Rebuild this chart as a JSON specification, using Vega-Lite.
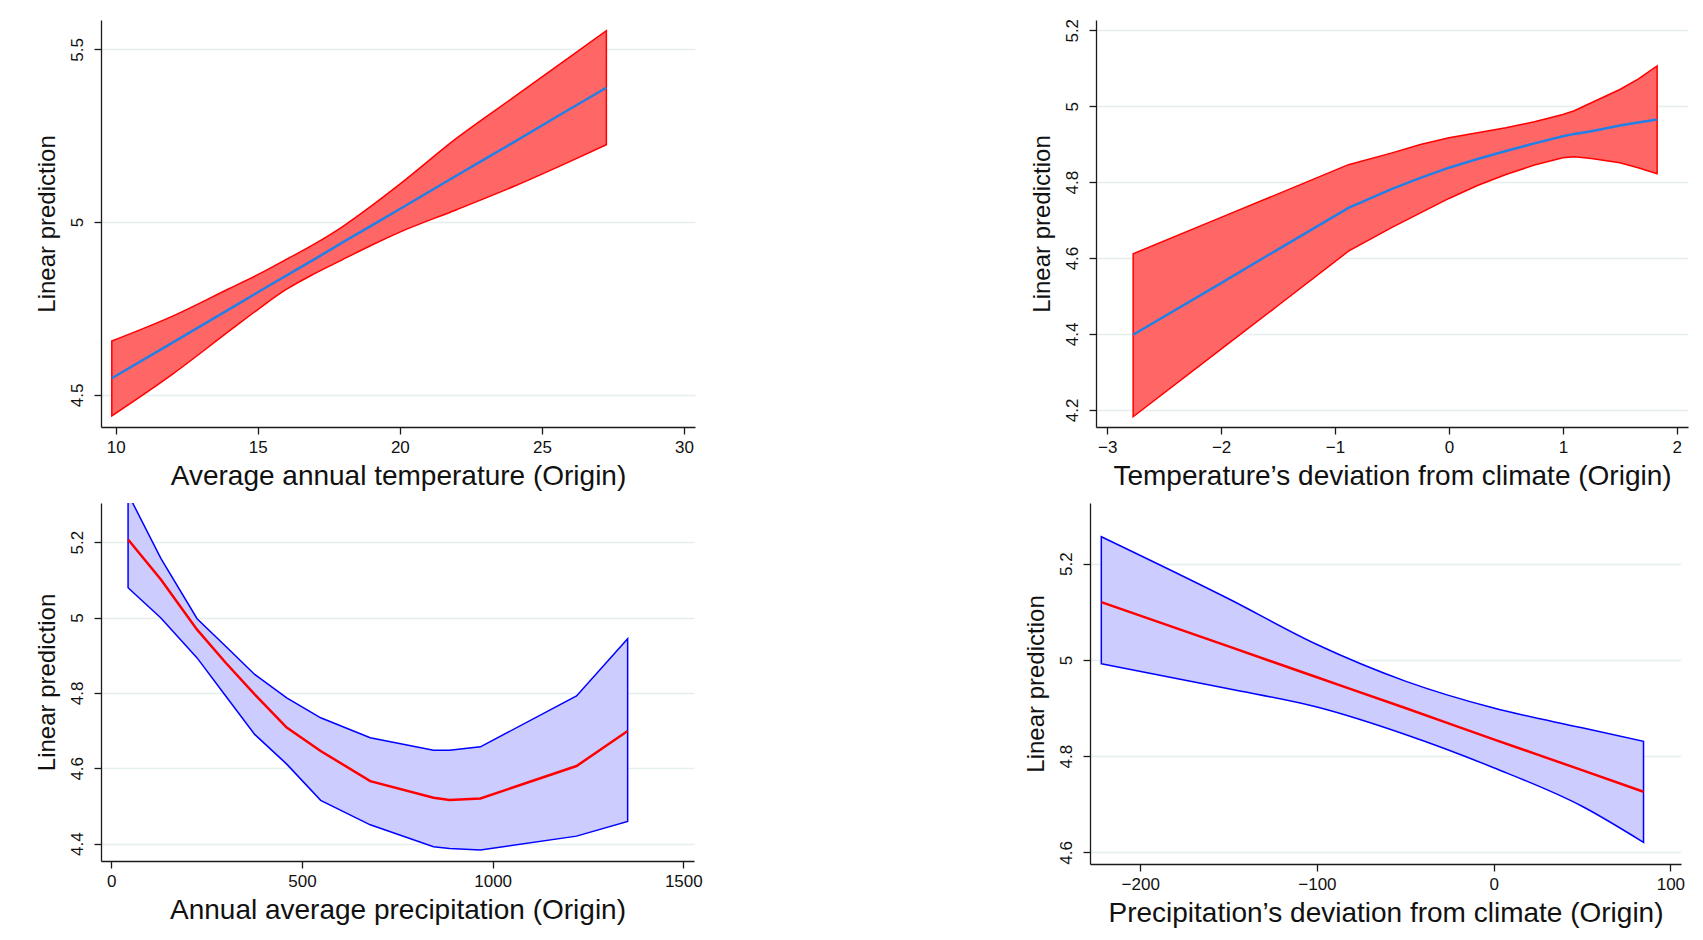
{
  "$schema": "https://vega.github.io/schema/vega-lite/v6.json",
  "background": "white",
  "padding": {"left": 35, "top": 18, "right": 5, "bottom": 5},
  "config": {
    "font": "Liberation Sans",
    "view": {"stroke": null},
    "axis": {
      "domainColor": "#1a1a1a",
      "domainWidth": 1.3,
      "tickColor": "#1a1a1a",
      "tickWidth": 1.3,
      "tickSize": 7,
      "labelFontSize": 17,
      "labelColor": "#111",
      "titleColor": "#111",
      "titleFontWeight": "normal",
      "grid": false
    },
    "axisX": {"labelPadding": 5, "titleFontSize": 28, "titlePadding": 7, "format": "d"},
    "axisY": {
      "grid": true,
      "gridColor": "#e6efef",
      "gridWidth": 1.5,
      "labelAngle": -90,
      "labelAlign": "center",
      "labelBaseline": "bottom",
      "labelPadding": 8,
      "titleFontSize": 24,
      "titlePadding": 9,
      "format": "~g"
    }
  },
  "datasets": {
    "p1": [
      {"x": 9.86, "lo": 4.439, "hi": 4.656, "fit": 4.548},
      {"x": 12, "lo": 4.560, "hi": 4.728, "fit": 4.651},
      {"x": 14, "lo": 4.685, "hi": 4.808, "fit": 4.748},
      {"x": 15, "lo": 4.747, "hi": 4.848, "fit": 4.797},
      {"x": 16, "lo": 4.805, "hi": 4.892, "fit": 4.845},
      {"x": 17, "lo": 4.851, "hi": 4.937, "fit": 4.893},
      {"x": 18, "lo": 4.892, "hi": 4.988, "fit": 4.942},
      {"x": 19, "lo": 4.933, "hi": 5.047, "fit": 4.990},
      {"x": 20, "lo": 4.971, "hi": 5.110, "fit": 5.038},
      {"x": 22, "lo": 5.036, "hi": 5.243, "fit": 5.135},
      {"x": 24, "lo": 5.103, "hi": 5.361, "fit": 5.231},
      {"x": 26, "lo": 5.176, "hi": 5.479, "fit": 5.328},
      {"x": 27.27, "lo": 5.224, "hi": 5.554, "fit": 5.389}
    ],
    "p2": [
      {"x": -2.772, "lo": 4.182, "hi": 4.611, "fit": 4.398},
      {"x": -2, "lo": 4.360, "hi": 4.707, "fit": 4.534},
      {"x": -1.5, "lo": 4.475, "hi": 4.769, "fit": 4.623},
      {"x": -0.882, "lo": 4.618, "hi": 4.846, "fit": 4.732},
      {"x": -0.5, "lo": 4.681, "hi": 4.877, "fit": 4.782},
      {"x": -0.25, "lo": 4.719, "hi": 4.899, "fit": 4.811},
      {"x": 0, "lo": 4.757, "hi": 4.917, "fit": 4.838},
      {"x": 0.25, "lo": 4.791, "hi": 4.930, "fit": 4.861},
      {"x": 0.5, "lo": 4.820, "hi": 4.943, "fit": 4.882},
      {"x": 0.75, "lo": 4.845, "hi": 4.959, "fit": 4.902},
      {"x": 1, "lo": 4.864, "hi": 4.978, "fit": 4.921},
      {"x": 1.1, "lo": 4.867, "hi": 4.988, "fit": 4.927},
      {"x": 1.25, "lo": 4.862, "hi": 5.009, "fit": 4.934},
      {"x": 1.5, "lo": 4.851, "hi": 5.044, "fit": 4.949},
      {"x": 1.66, "lo": 4.838, "hi": 5.071, "fit": 4.957},
      {"x": 1.827, "lo": 4.822, "hi": 5.106, "fit": 4.965}
    ],
    "p3": [
      {"x": 44, "lo": 5.079, "hi": 5.328, "fit": 5.207},
      {"x": 130, "lo": 4.999, "hi": 5.157, "fit": 5.101},
      {"x": 225, "lo": 4.893, "hi": 4.997, "fit": 4.968},
      {"x": 300, "lo": 4.792, "hi": 4.924, "fit": 4.880},
      {"x": 376, "lo": 4.690, "hi": 4.849, "fit": 4.796},
      {"x": 460, "lo": 4.611, "hi": 4.787, "fit": 4.708},
      {"x": 549, "lo": 4.515, "hi": 4.734, "fit": 4.646},
      {"x": 679, "lo": 4.450, "hi": 4.681, "fit": 4.566},
      {"x": 845, "lo": 4.392, "hi": 4.648, "fit": 4.522},
      {"x": 887, "lo": 4.387, "hi": 4.648, "fit": 4.516},
      {"x": 968, "lo": 4.383, "hi": 4.657, "fit": 4.520},
      {"x": 1220, "lo": 4.420, "hi": 4.792, "fit": 4.606},
      {"x": 1354, "lo": 4.459, "hi": 4.944, "fit": 4.699}
    ],
    "p4": [
      {"x": -222, "lo": 4.992, "hi": 5.256, "fit": 5.120},
      {"x": -150, "lo": 4.940, "hi": 5.127, "fit": 5.028},
      {"x": -100, "lo": 4.902, "hi": 5.032, "fit": 4.964},
      {"x": -50, "lo": 4.845, "hi": 4.956, "fit": 4.900},
      {"x": 0, "lo": 4.776, "hi": 4.900, "fit": 4.835},
      {"x": 50, "lo": 4.696, "hi": 4.859, "fit": 4.771},
      {"x": 84.8, "lo": 4.621, "hi": 4.831, "fit": 4.726}
    ]
  },
  "spacing": 13,
  "vconcat": [
    {
      "spacing": 335,
      "hconcat": [
        {
          "width": 594, "height": 407,
          "data": {"name": "p1"},
          "layer": [
            {
              "mark": {"type": "area", "interpolate": "monotone", "fill": "#ff6666", "stroke": "#ff0000", "strokeWidth": 1.5, "clip": true},
              "encoding": {
                "x": {"field": "x", "type": "quantitative", "scale": {"domain": [9.48, 30.39], "nice": false, "zero": false}, "axis": {"values": [10, 15, 20, 25, 30], "title": "Average annual temperature (Origin)"}},
                "y": {"field": "lo", "type": "quantitative", "scale": {"domain": [4.407, 5.585], "nice": false, "zero": false}, "axis": {"values": [4.5, 5, 5.5], "title": "Linear prediction"}},
                "y2": {"field": "hi"}
              }
            },
            {
              "mark": {"type": "line", "interpolate": "monotone", "color": "#1f80e8", "strokeWidth": 2.5, "clip": true},
              "encoding": {
                "x": {"field": "x", "type": "quantitative"},
                "y": {"field": "fit", "type": "quantitative"}
              }
            }
          ]
        },
        {
          "width": 592, "height": 407,
          "data": {"name": "p2"},
          "layer": [
            {
              "mark": {"type": "area", "fill": "#ff6666", "stroke": "#ff0000", "strokeWidth": 1.5, "clip": true},
              "encoding": {
                "x": {"field": "x", "type": "quantitative", "scale": {"domain": [-3.098, 2.098], "nice": false, "zero": false}, "axis": {"values": [-3, -2, -1, 0, 1, 2], "title": "Temperature’s deviation from climate (Origin)"}},
                "y": {"field": "lo", "type": "quantitative", "scale": {"domain": [4.155, 5.227], "nice": false, "zero": false}, "axis": {"values": [4.2, 4.4, 4.6, 4.8, 5, 5.2], "title": "Linear prediction"}},
                "y2": {"field": "hi"}
              }
            },
            {
              "mark": {"type": "line", "color": "#1f80e8", "strokeWidth": 2.5, "clip": true},
              "encoding": {
                "x": {"field": "x", "type": "quantitative"},
                "y": {"field": "fit", "type": "quantitative"}
              }
            }
          ]
        }
      ]
    },
    {
      "spacing": 321,
      "hconcat": [
        {
          "width": 593, "height": 358,
          "data": {"name": "p3"},
          "layer": [
            {
              "mark": {"type": "area", "fill": "#ccccff", "stroke": "#0000ff", "strokeWidth": 1.5, "clip": true},
              "encoding": {
                "x": {"field": "x", "type": "quantitative", "scale": {"domain": [-27, 1528], "nice": false, "zero": false}, "axis": {"values": [0, 500, 1000, 1500], "title": "Annual average precipitation (Origin)"}},
                "y": {"field": "lo", "type": "quantitative", "scale": {"domain": [4.354, 5.304], "nice": false, "zero": false}, "axis": {"values": [4.4, 4.6, 4.8, 5, 5.2], "title": "Linear prediction"}},
                "y2": {"field": "hi"}
              }
            },
            {
              "mark": {"type": "line", "color": "#ff0000", "strokeWidth": 2.5, "clip": true},
              "encoding": {
                "x": {"field": "x", "type": "quantitative"},
                "y": {"field": "fit", "type": "quantitative"}
              }
            }
          ]
        },
        {
          "width": 591, "height": 361,
          "data": {"name": "p4"},
          "layer": [
            {
              "mark": {"type": "area", "interpolate": "monotone", "fill": "#ccccff", "stroke": "#0000ff", "strokeWidth": 1.5, "clip": true},
              "encoding": {
                "x": {"field": "x", "type": "quantitative", "scale": {"domain": [-228.4, 106], "nice": false, "zero": false}, "axis": {"values": [-200, -100, 0, 100], "title": "Precipitation’s deviation from climate (Origin)"}},
                "y": {"field": "lo", "type": "quantitative", "scale": {"domain": [4.576, 5.326], "nice": false, "zero": false}, "axis": {"values": [4.6, 4.8, 5, 5.2], "title": "Linear prediction"}},
                "y2": {"field": "hi"}
              }
            },
            {
              "mark": {"type": "line", "interpolate": "monotone", "color": "#ff0000", "strokeWidth": 2.5, "clip": true},
              "encoding": {
                "x": {"field": "x", "type": "quantitative"},
                "y": {"field": "fit", "type": "quantitative"}
              }
            }
          ]
        }
      ]
    }
  ]
}
